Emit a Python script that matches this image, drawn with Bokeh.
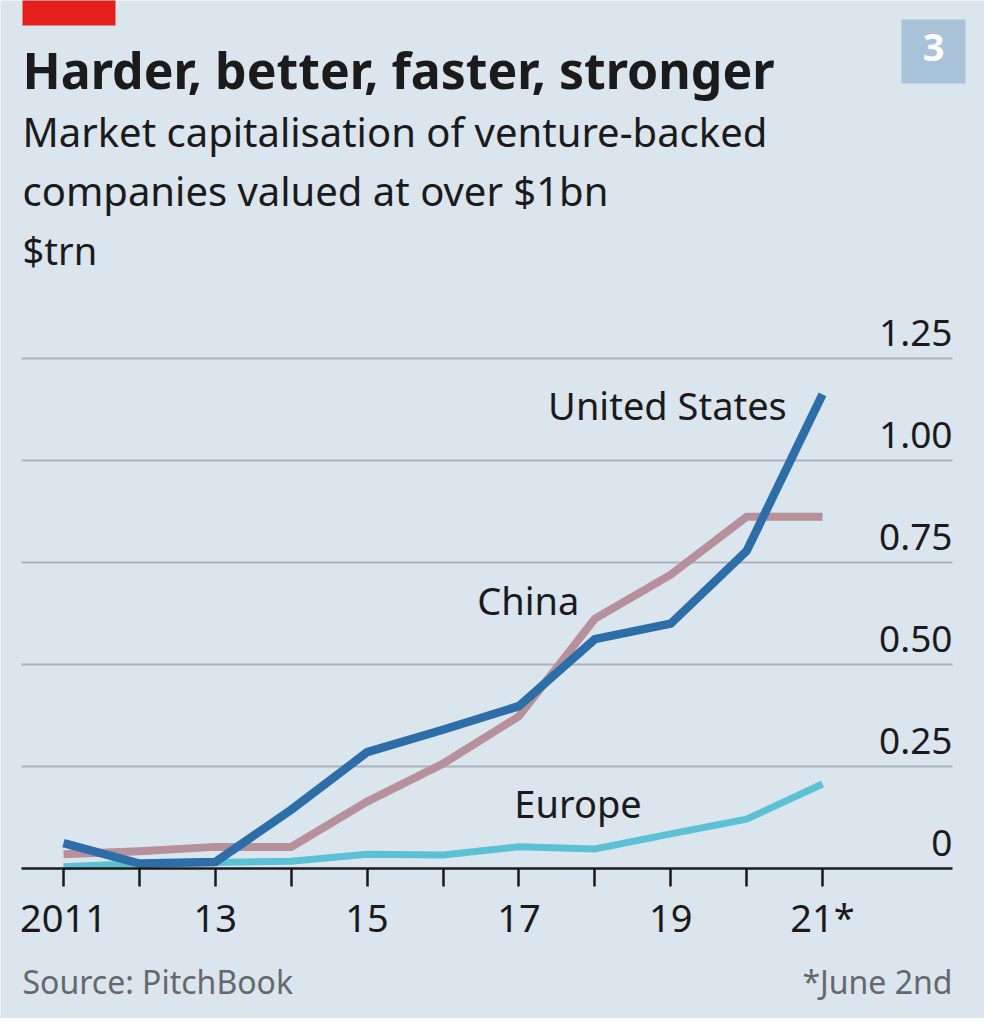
from bokeh.plotting import figure
from bokeh.models import Range1d, FixedTicker, Label, BoxAnnotation, ColumnDataSource
from bokeh.core.properties import value
from bokeh.embed import file_html
from bokeh.resources import INLINE

# ---------------- data ----------------
years = [2011, 2012, 2013, 2014, 2015, 2016, 2017, 2018, 2019, 2020, 2021]
united_states = [0.062, 0.012, 0.016, 0.144, 0.285, 0.340, 0.398, 0.562, 0.600, 0.778, 1.162]
china = [0.035, 0.042, 0.053, 0.053, 0.164, 0.257, 0.373, 0.612, 0.720, 0.862, 0.862]
europe = [0.004, 0.012, 0.015, 0.018, 0.035, 0.033, 0.053, 0.048, 0.085, 0.121, 0.207]

x_ticks = years
x_tick_labels = ["2011", "", "13", "", "15", "", "17", "", "19", "", "21*"]
y_ticks = [0.0, 0.25, 0.5, 0.75, 1.0, 1.25]
y_tick_labels = ["0", "0.25", "0.50", "0.75", "1.00", "1.25"]

title = "Harder, better, faster, stronger"
subtitle = ["Market capitalisation of venture-backed", "companies valued at over $1bn"]
unit = "$trn"
source = "Source: PitchBook"
footnote = "*June 2nd"
chart_number = "3"

# ---------------- style / layout ----------------
BG = "#dae5ee"
C_US = "#2d6ea8"
C_CN = "#b6909a"
C_EU = "#5cc1d4"
GRID = "#a8b3bd"
INK = "#1b1b1b"
GREY = "#66696c"
FONT = "Noto Sans"
SHIFT = 0.4          # empirical baseline correction, in em

W, H = 984, 1018
PAGE = 8
AXIS_Y = 876                  # page y of the zero line
GRID_L, GRID_R = 29, 960      # page x extent of grid and axis line
X0_PX, PX_YEAR, PX_UNIT = 71, 75.9, 408.0


def px_to_year(px):
    return years[0] + (px - X0_PX) / PX_YEAR


x_start = px_to_year(PAGE)
x_end = px_to_year(PAGE + W)
y_start = -(PAGE + H - AXIS_Y) / PX_UNIT
y_end = (AXIS_Y - PAGE) / PX_UNIT
gl, gr = px_to_year(GRID_L), px_to_year(GRID_R)

p = figure(width=W, height=H, output_backend="svg", toolbar_location=None,
           x_range=Range1d(x_start, x_end), y_range=Range1d(y_start, y_end),
           y_axis_location=None, x_axis_location="below",
           min_border=0, min_border_left=0, min_border_right=0,
           min_border_top=0, min_border_bottom=0,
           background_fill_color=BG, border_fill_color=BG, outline_line_color=None)

p.xgrid.visible = False
p.ygrid.visible = False

# horizontal grid lines at the y ticks
gt = [t for t in y_ticks if t > 0]
p.segment(x0=[gl] * len(gt), x1=[gr] * len(gt), y0=gt, y1=gt,
          line_color=GRID, line_width=2)

# x axis sitting on zero
ax = p.xaxis[0]
ax.fixed_location = 0
ax.bounds = (gl, gr)
ax.ticker = FixedTicker(ticks=x_ticks)
ax.major_label_overrides = {y: l for y, l in zip(x_ticks, x_tick_labels)}
ax.minor_tick_line_color = None
ax.major_tick_in = 0
ax.major_tick_out = 18
ax.major_tick_line_width = 2.5
ax.major_tick_line_color = INK
ax.axis_line_color = INK
ax.axis_line_width = 2.5
ax.major_label_text_font = FONT
ax.major_label_text_font_size = "38px"
ax.major_label_text_color = INK
ax.major_label_standoff = 4

# y tick labels above grid lines, right aligned
YL = 37
p.text(x=[gr] * len(y_ticks), y=y_ticks, text=y_tick_labels,
       text_font=value(FONT), text_font_size=f"{YL}px", text_color=INK,
       text_align="right", text_baseline="alphabetic", y_offset=-11 - SHIFT * YL)

# lines
src = ColumnDataSource(dict(year=years, us=united_states, cn=china, eu=europe))
p.line("year", "eu", source=src, line_color=C_EU, line_width=7, line_join="miter")
p.line("year", "cn", source=src, line_color=C_CN, line_width=8, line_join="miter")
p.line("year", "us", source=src, line_color=C_US, line_width=8.5, line_join="miter")

# series labels (data coordinates of their baselines)
SL = 38
series_labels = [
    ("United States", 2020.53, 1.098, "right"),
    ("China", 2016.45, 0.620, "left"),
    ("Europe", 2016.94, 0.1225, "left"),
]
for txt, lx, ly, al in series_labels:
    p.add_layout(Label(x=lx, y=ly + SHIFT * SL / PX_UNIT, text=txt, text_align=al,
                       text_baseline="alphabetic", text_font=FONT,
                       text_font_size=f"{SL}px", text_color=INK))


def sx(px):
    return px - PAGE


def sy(py):
    return PAGE + H - py


def header(txt, px, py, size, color=INK, style="normal", align="left"):
    p.add_layout(Label(x=sx(px), y=sy(py) + SHIFT * size, x_units="screen", y_units="screen",
                       text=txt, text_align=align, text_baseline="alphabetic", text_font=FONT,
                       text_font_size=f"{size}px", text_color=color, text_font_style=style))


header(title, 30, 97, 50, style="bold")
header(subtitle[0], 30, 155, 40)
header(subtitle[1], 30, 214, 40)
header(unit, 30, 273, 38)
header(source, 30, 1002, 32, color=GREY)
header(footnote, 960, 1002, 32, color=GREY, align="right")

# red tag and chart number box
p.add_layout(BoxAnnotation(left=sx(30), right=sx(123), top=sy(0), bottom=sy(33),
                           left_units="screen", right_units="screen",
                           top_units="screen", bottom_units="screen",
                           fill_color="#e3201b", fill_alpha=1, line_color=None))
p.add_layout(BoxAnnotation(left=sx(909), right=sx(973), top=sy(27), bottom=sy(91),
                           left_units="screen", right_units="screen",
                           top_units="screen", bottom_units="screen",
                           fill_color="#a8c3d8", fill_alpha=1, line_color=None))
header(chart_number, 941, 70, 38, color="white", style="bold", align="center")

open("out.html", "w").write(file_html(p, INLINE))
